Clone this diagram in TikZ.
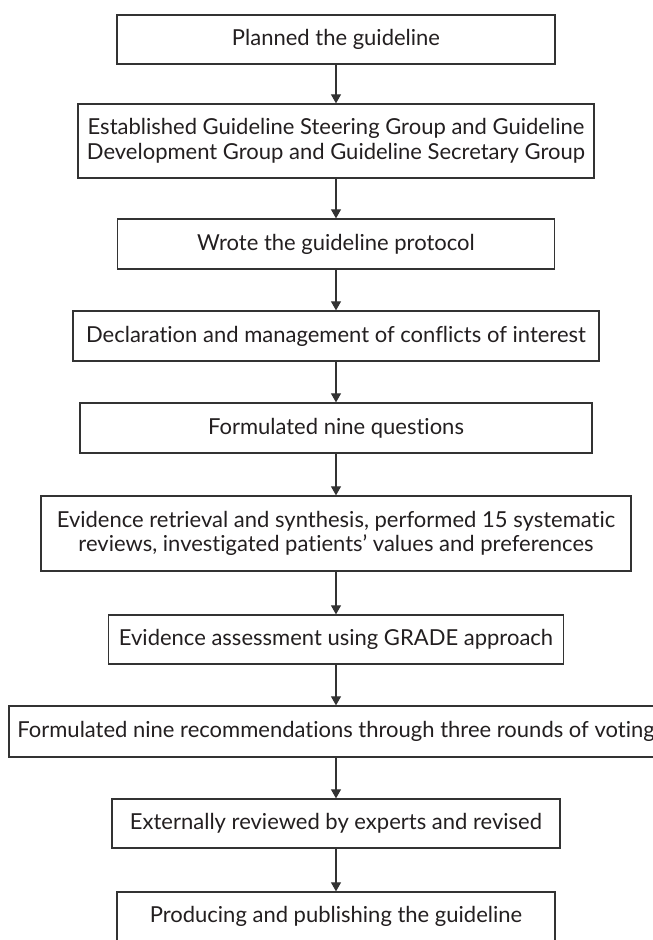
\documentclass[tikz,border=0pt]{standalone}
\usepackage{fontspec}
\setmainfont{Lato}[Ligatures=NoCommon]
\usetikzlibrary{arrows.meta}
\definecolor{ink}{HTML}{231F20}
\definecolor{edge}{HTML}{333333}
\tikzset{
  box/.style={draw=edge, line width=1.3pt, fill=white, inner sep=0pt, align=center,
    text=ink, font=\fontsize{22}{24.5}\selectfont},
  arr/.style={draw=edge, line width=1.1pt, -{Triangle[width=10pt,length=9pt]}}
}
\begin{document}
\begin{tikzpicture}[x=1pt,y=-1pt]
\useasboundingbox (0,0) rectangle (653,940);
\clip (0,0) rectangle (653,940);
\fill[white] (0,0) rectangle (653,940);
\node[box, minimum width=438pt, minimum height=49pt] (n1) at (336,39.5) {Planned the guideline};
\node[box, minimum width=516pt, minimum height=74pt] (n2) at (336,141) {Established Guideline Steering Group and Guideline\\Development Group and Guideline Secretary Group};
\node[box, minimum width=437pt, minimum height=50pt] (n3) at (336,244) {Wrote the guideline protocol};
\node[box, minimum width=526pt, minimum height=50pt] (n4) at (336,336) {Declaration and management of conflicts of interest};
\node[box, minimum width=512pt, minimum height=50pt] (n5) at (336,428) {Formulated nine questions};
\node[box, minimum width=590pt, minimum height=75pt] (n6) at (336,533.5) {Evidence retrieval and synthesis, performed 15 systematic\\reviews, investigated patients’ values and preferences};
\node[box, minimum width=455pt, minimum height=49pt] (n7) at (336,639.5) {Evidence assessment using GRADE approach};
\node[box, minimum width=654pt, minimum height=51pt] (n8) at (336,731.5) {Formulated nine recommendations through three rounds of voting};
\node[box, minimum width=448pt, minimum height=49pt] (n9) at (336,823.5) {Externally reviewed by experts and revised};
\node[box, minimum width=438pt, minimum height=49pt] (n10) at (336,916.5) {Producing and publishing the guideline};
\foreach \a/\b in {n1/n2,n2/n3,n3/n4,n4/n5,n5/n6,n6/n7,n7/n8,n8/n9,n9/n10}
  \draw[arr] (\a) -- (\b);
\end{tikzpicture}
\end{document}
